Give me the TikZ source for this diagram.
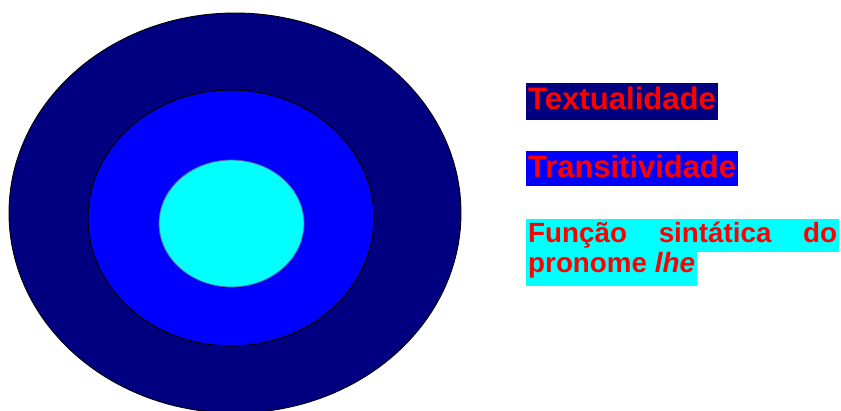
\documentclass[tikz,border=0pt]{standalone}
\usepackage{fontspec}
\setmainfont{Liberation Sans}
\usetikzlibrary{shapes.geometric}
\definecolor{navyring}{HTML}{000080}
\definecolor{bluering}{HTML}{0000FF}
\definecolor{cyancore}{HTML}{00FFFF}
\definecolor{corerim}{HTML}{5A5AA8}
\definecolor{labelred}{HTML}{FF0000}
\begin{document}
\begin{tikzpicture}[x=1pt,y=-1pt,
  ring/.style={ellipse,inner sep=0pt,line width=0.9pt},
  lab/.style={anchor=base west,inner xsep=2pt,inner ysep=0pt,text=labelred,font=\bfseries}]
\useasboundingbox (0,0) rectangle (841,410);
\clip (0,0) rectangle (841,410);
\node[ring,draw=black,fill=navyring,minimum width=452pt,minimum height=400pt] (outer) at (235,213) {};
\node[ring,draw=black,fill=bluering,line width=1.1pt,minimum width=286pt,minimum height=256pt] (middle) at (231,218) {};
\node[ring,draw=corerim,fill=cyancore,line width=0.8pt,minimum width=145pt,minimum height=127pt] (inner) at (231.5,223.5) {};
\node[lab,fill=navyring,text height=26.7pt,text depth=10.3pt,font=\bfseries\fontsize{31.1pt}{35pt}\selectfont] (t1) at (526,109.7) {Textualidade};
\node[lab,fill=bluering,text height=26.6pt,text depth=8.4pt,font=\bfseries\fontsize{30.9pt}{35pt}\selectfont] (t2) at (526,177.3) {Transitividade};
\node[lab,fill=cyancore,text height=23.3pt,text depth=10pt,font=\bfseries\fontsize{27.8pt}{31pt}\selectfont] (t3a) at (526,242) {\makebox[309pt][l]{Função\hfill sintática\hfill do}};
\node[lab,fill=cyancore,text height=20.5pt,text depth=13.5pt,font=\bfseries\fontsize{27.8pt}{31pt}\selectfont] (t3b) at (526,272.5) {pronome \textit{lhe}};
\end{tikzpicture}
\end{document}
